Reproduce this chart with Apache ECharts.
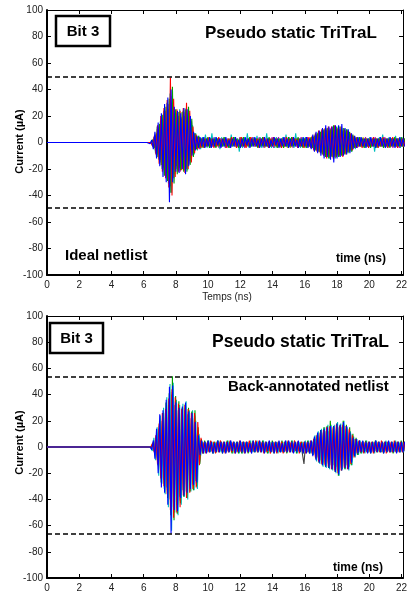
<!DOCTYPE html>
<html><head><meta charset="utf-8">
<script src="https://cdn.jsdelivr.net/npm/echarts@6/dist/echarts.min.js"></script>
<style>html,body{margin:0;padding:0;background:#fff}#c{width:410px;height:593px}</style>
</head><body><div id="c"></div>
<script>
// axis ranges / ticks
const xRange = {min: 0, max: 22.1, interval: 2};
const yRange = {min: -100, max: 100, interval: 20};
// traces are sampled from T0 (+ a small per-trace sampling shift) with step DT; quiet at 0 before T0
const T0 = 6.0, DT = 0.1;
const traceShift = [0.05, 0.02, 0.07, 0.035, 0.085, 0.06, 0.0];
const traceColors = ['#404040', '#bfbf00', '#bf00bf', '#00bfbf', '#00a000', '#ff0000', '#0000ff'];
const idealThresholds = [49.5, -49.5];
const backThresholds = [54, -66];

// ---- Ideal netlist traces (uA), t = 6.0 .. 22.2 ns
const idealGray = [
0,0,0,0,0,1,-2,5,-8,10,
-13,16,-19,20,-23,25,-29,30,-24,19,
-18,17,-19,18,-18,20,-18,19,-14,14,
-8,6,-4,4,-3,3,-3,3,-3,3,
-2,3,-3,2,-3,3,-2,3,-3,2,
-3,2,-3,3,-2,3,-3,2,-3,3,
-2,3,-3,3,-2,3,-3,2,-3,3,
-3,3,-2,3,-3,2,-3,3,-2,3,
-3,2,-3,3,-3,3,-2,3,-3,2,
-3,3,-2,3,-3,3,-3,2,-3,3,
-2,3,-3,3,-3,4,-5,5,-6,7,
-7,8,-8,9,-9,9,-10,9,-10,9,
-9,9,-8,8,-8,7,-7,6,-5,5,
-3,3,-3,3,-3,2,-3,3,-3,3,
-3,2,-3,3,-3,3,-2,3,-3,3,
-2,3,-3,3,-2,3,-3,3,-3,2,
-3,2,-3];
const idealOlive = [
0,0,0,0,0,-1,3,-6,10,-12,
14,-17,20,-22,25,-27,31,-33,26,-21,
19,-18,21,-17,20,-19,23,-18,20,-12,
8,-6,5,-4,3,-4,3,-3,3,-3,
3,-3,4,-3,3,-3,3,-4,3,-3,
3,-3,3,-3,4,-3,3,-3,3,-3,
4,-3,3,-3,3,-3,4,-3,3,-3,
3,-3,3,-3,3,-4,3,-3,3,-3,
3,-3,3,-4,3,-3,3,-3,3,-4,
3,-4,3,-3,3,-3,3,-3,4,-3,
3,-3,3,-3,4,-4,5,-6,6,-7,
8,-8,9,-9,10,-10,9,-10,11,-9,
9,-9,10,-9,8,-8,8,-7,6,-5,
4,-3,3,-3,3,-3,4,-3,3,-3,
3,-3,3,-3,3,-3,3,-3,3,-3,
3,-3,3,-3,3,-3,3,-3,3,-3,
3,-3,3];
const idealMagenta = [
0,0,0,0,0,1,-3,6,-9,12,
-15,18,-21,24,-26,29,-33,35,-27,22,
-20,20,-22,19,-21,23,-20,22,-16,16,
-9,7,-5,4,-5,3,-3,4,-3,3,
-3,3,-3,4,-3,2,-4,3,-3,3,
-4,3,-2,3,-3,4,-3,2,-3,4,
-3,3,-4,3,-3,3,-2,4,-3,3,
-3,4,-3,3,-4,3,-3,3,-3,4,
-4,3,-3,4,-3,3,-3,4,-3,3,
-3,3,-4,3,-3,3,-3,4,-3,3,
-3,4,-3,3,-4,4,-5,6,-7,7,
-8,9,-10,10,-9,11,-10,11,-11,10,
-10,10,-9,9,-8,9,-7,7,-6,5,
-4,3,-4,3,-3,3,-3,4,-3,3,
-3,3,-3,4,-3,3,-3,3,-3,4,
-3,3,-3,3,-4,3,-3,3,-4,3,
-3,3,-3];
const idealCyan = [
0,0,0,0,0,-2,4,-8,12,-13,
16,-20,24,-25,30,-31,37,-38,30,-24,
22,-21,25,-20,24,-21,26,-21,22,-13,
13,-9,7,-6,5,-5,4,-3,6,-4,
3,-4,7,-3,4,-3,3,-5,4,-3,
4,-3,3,-4,6,-3,4,-3,3,-7,
3,-4,4,-3,7,-4,3,-3,4,-3,
5,-3,4,-4,3,-3,7,-4,3,-4,
3,-4,4,-3,3,-4,4,-3,6,-3,
4,-3,3,-4,7,-3,3,-4,3,-3,
4,-4,3,-3,4,-5,6,-6,8,-7,
9,-9,10,-10,11,-12,10,-11,12,-10,
10,-11,9,-10,11,-8,10,-7,6,-7,
4,-5,3,-3,4,-3,3,-4,3,-3,
4,-3,3,-7,3,-3,4,-3,6,-3,
3,-4,4,-3,3,-3,5,-3,3,-4,
4,-3,3];
const idealGreen = [
0,0,0,0,0,2,-4,7,-11,14,
-17,21,-25,27,-29,33,-38,42,-31,25,
-24,23,-21,23,-22,25,-22,27,-17,18,
-11,7,-5,5,-4,3,-4,3,-3,4,
-4,3,-2,3,-4,3,-3,2,-3,4,
-3,2,-4,3,-3,4,-2,3,-4,3,
-3,4,-3,2,-3,4,-3,3,-2,3,
-4,3,-3,4,-3,2,-3,4,-3,3,
-2,3,-4,3,-3,3,-4,2,-3,4,
-3,4,-3,3,-2,4,-3,3,-4,3,
-4,3,-3,4,-4,5,-6,7,-7,8,
-9,10,-11,11,-12,10,-11,13,-12,12,
-11,12,-10,11,-9,10,-8,8,-7,6,
-4,4,-3,4,-3,3,-4,3,-3,3,
-4,3,-3,3,-4,3,-3,3,-4,3,
-3,3,-4,3,-3,4,-3,3,-3,4,
-3,3,-2];
const idealRed = [
0,0,0,1,0,-3,5,-9,13,-16,
20,-22,26,-27,32,-34,49,-40,33,-26,
25,-22,24,-21,26,-23,30,-20,24,-15,
12,-8,6,-5,4,-4,3,-4,3,-3,
4,-3,3,-4,2,-3,4,-3,3,-2,
3,-4,3,-3,4,-2,3,-4,2,-3,
4,-3,2,-4,3,-3,4,-2,3,-3,
3,-4,3,-2,4,-3,3,-4,3,-3,
4,-3,3,-3,2,-4,3,-3,4,-2,
3,-3,4,-2,3,-4,3,-3,2,-4,
3,-3,4,-4,5,-6,7,-7,9,-8,
10,-10,11,-12,12,-11,12,-12,13,-11,
11,-10,12,-11,10,-9,9,-7,7,-6,
5,-4,4,-3,3,-4,3,-3,3,-4,
3,-3,4,-3,3,-4,3,-3,4,-3,
3,-4,3,-3,4,-3,3,-4,3,-3,
3,-3,3];
const idealBlue = [
0,1,0,0,-1,2,-5,8,-12,15,
-18,22,-26,29,-30,34,-45,40,-30,27,
-22,24,-23,22,-20,26,-24,25,-18,20,
-10,8,-6,5,-4,4,-3,4,-4,3,
-3,4,-4,3,-3,4,-2,3,-4,3,
-3,4,-3,2,-4,3,-3,4,-3,2,
-4,3,-3,4,-2,3,-4,3,-3,4,
-3,2,-4,3,-3,4,-3,3,-4,2,
-3,4,-2,3,-4,3,-3,4,-3,3,
-4,3,-3,4,-3,2,-4,3,-3,4,
-3,4,-4,3,-5,6,-7,8,-8,9,
-10,11,-12,13,-11,12,-13,12,-15,13,
-12,13,-11,14,-10,11,-9,10,-8,7,
-5,5,-4,4,-3,4,-3,3,-4,3,
-3,4,-3,3,-4,3,-3,4,-3,3,
-4,3,-3,4,-3,3,-4,3,-3,4,
-3,3,-3];

// ---- Back-annotated netlist traces (uA), t = 6.0 .. 22.2 ns
const backGray = [
0,0,0,0,0,1,-2,6,-10,14,
-19,20,-25,26,-31,32,-40,40,-46,32,
-44,28,-38,26,-33,28,-34,25,-29,22,
-28,22,-26,12,-10,5,-4,3,-4,3,
-3,4,-3,3,-4,3,-3,4,-3,3,
-4,3,-3,4,-3,3,-4,3,-3,4,
-3,3,-4,3,-3,4,-3,3,-4,3,
-3,4,-3,3,-4,3,-3,4,-3,3,
-4,3,-3,4,-3,3,-4,3,-3,4,
-3,3,-4,3,-3,4,-3,3,4,-13,
3,-4,3,-4,4,-5,6,-8,9,-10,
11,-12,12,-13,12,-14,13,-14,14,-15,
15,-17,15,-15,16,-14,13,-15,10,-11,
6,-6,4,-4,3,-4,4,-3,3,-4,
3,-4,3,-3,4,-3,3,-4,3,-3,
4,-3,3,-4,3,-3,4,-3,3,-4,
3,-3,3];
const backOlive = [
0,0,0,0,0,-1,4,-7,11,-15,
20,-24,25,-30,32,-38,42,-50,44,-42,
32,-44,29,-37,30,-34,31,-34,26,-29,
25,-28,18,-25,9,-6,4,-4,3,-4,
4,-3,4,-4,3,-4,4,-3,4,-4,
3,-4,4,-3,4,-4,3,-4,4,-3,
4,-3,4,-4,3,-4,4,-3,4,-4,
3,-4,4,-3,4,-4,3,-4,4,-3,
4,-4,3,-4,4,-3,4,-4,3,-4,
4,-3,4,-4,3,-4,4,-3,4,-4,
3,-4,4,-4,4,-5,7,-8,10,-11,
12,-13,13,-14,14,-15,15,-16,15,-17,
16,-19,16,-16,17,-15,14,-16,11,-12,
7,-6,5,-5,4,-4,4,-4,3,-4,
4,-3,4,-4,3,-4,4,-3,4,-4,
3,-4,4,-3,4,-4,3,-4,4,-3,
4,-3,4];
const backMagenta = [
0,0,0,0,0,1,-3,7,-12,16,
-22,22,-28,28,-33,35,-45,42,-50,35,
-47,31,-41,28,-35,30,-36,27,-31,24,
-30,24,-28,13,-12,5,-4,4,-4,4,
-4,3,-4,4,-3,4,-4,3,-4,4,
-3,4,-4,3,-4,4,-3,4,-4,3,
-4,4,-3,4,-4,3,-4,4,-3,4,
-4,3,-4,4,-3,4,-4,3,-4,4,
-3,4,-4,3,-4,4,-3,4,-4,3,
-4,3,-4,4,-3,4,-4,3,-4,4,
-4,4,-3,4,-5,6,-7,9,-10,11,
-12,12,-13,14,-13,15,-14,14,-16,15,
-18,15,-16,16,-15,14,-15,13,-11,8,
-6,6,-5,4,-4,4,-4,3,-4,4,
-4,3,-4,4,-3,4,-4,3,-4,4,
-3,4,-4,3,-4,4,-3,4,-4,3,
-4,3,-4];
const backCyan = [
0,0,0,0,0,-3,7,-10,15,-22,
24,-28,30,-36,38,-46,48,-64,49,-50,
36,-52,32,-44,33,-38,35,-40,28,-34,
28,-33,20,-32,10,-7,4,-5,4,-4,
5,-4,4,-5,4,-4,5,-4,4,-4,
4,-4,5,-4,4,-5,4,-4,4,-5,
4,-5,4,-4,4,-4,5,-4,4,-4,
5,-4,4,-4,5,-4,4,-5,4,-4,
4,-4,4,-5,4,-4,4,-4,5,-4,
4,-4,5,-4,4,-5,4,-4,4,-4,
5,-4,5,-5,5,-6,9,-11,12,-13,
14,-15,15,-16,17,-17,17,-18,17,-20,
19,-22,18,-17,20,-17,15,-18,12,-14,
8,-8,6,-6,5,-5,4,-5,5,-4,
4,-4,4,-5,5,-4,4,-4,4,-4,
5,-4,4,-4,4,-4,5,-4,4,-4,
4,-4,4];
const backGreen = [
0,0,0,0,0,2,-5,9,-14,20,
-27,26,-32,34,-39,41,-52,54,-56,39,
-51,35,-43,30,-38,33,-39,30,-34,27,
-33,28,-30,15,-13,6,-5,5,-4,5,
-4,4,-5,4,-4,5,-4,4,-5,4,
-4,5,-4,4,-5,4,-4,4,-5,4,
-5,4,-4,4,-5,4,-4,5,-4,4,
-4,4,-4,5,-4,4,-5,4,-4,5,
-5,4,-4,4,-4,5,-4,4,-5,4,
-4,5,-4,4,-5,4,-4,4,-5,4,
-4,5,-5,4,-6,7,-9,10,-12,13,
-14,15,-15,16,-16,20,-17,16,-19,18,
-22,17,-18,20,-17,17,-16,15,-14,10,
-7,7,-6,5,-5,4,-4,5,-4,4,
-5,4,-4,5,-4,4,-4,4,-5,4,
-4,4,-4,4,-5,4,-4,4,-4,5,
-4,4,-4];
const backRed = [
0,0,0,0,0,3,-4,9,-13,18,
-24,26,-30,29,-36,37,-48,44,-54,38,
-50,33,-46,29,-37,32,-39,29,-35,26,
-32,26,-31,19,-14,7,-5,4,-5,4,
-4,5,-4,4,-5,4,-4,5,-3,4,
-5,4,-4,5,-4,4,-5,3,-4,5,
-4,4,-5,4,-4,5,-4,4,-3,5,
-4,5,-4,4,-5,4,-4,4,-5,3,
-4,4,-5,4,-4,4,-5,4,-4,5,
-4,4,-4,5,-3,4,-5,4,-4,4,
-5,4,-4,5,-5,6,-8,9,-11,11,
-13,13,-14,15,-15,16,-17,15,-18,17,
-20,16,-18,17,-16,16,-17,14,-13,9,
-8,6,-5,5,-4,4,-5,4,-4,4,
-4,4,-5,4,-4,4,-4,5,-4,4,
-5,4,-4,4,-4,5,-4,4,-4,4,
-4,4,-4];
const backBlue = [
0,0,0,0,0,-2,5,-9,14,-20,
25,-31,28,-35,36,-44,46,-66,47,-48,
34,-49,30,-39,31,-37,34,-35,27,-32,
26,-29,19,-27,9,-6,5,-5,4,-5,
5,-4,4,-5,3,-4,5,-4,4,-5,
4,-5,4,-4,5,-3,4,-5,4,-4,
5,-4,4,-5,4,-4,3,-5,5,-4,
4,-4,5,-4,4,-5,4,-3,5,-4,
4,-5,4,-4,5,-4,3,-4,5,-4,
5,-4,4,-5,4,-4,5,-4,3,-5,
4,-5,4,-5,5,-7,8,-10,11,-12,
13,-14,14,-15,15,-16,16,-17,16,-19,
18,-21,17,-18,19,-16,16,-17,11,-12,
7,-7,6,-5,5,-4,5,-4,4,-5,
4,-5,4,-4,5,-4,4,-4,4,-5,
4,-4,5,-4,4,-4,4,-5,4,-4,
4,-4,4];

const idealTraces = [idealGray, idealOlive, idealMagenta, idealCyan, idealGreen, idealRed, idealBlue];
const backTraces = [backGray, backOlive, backMagenta, backCyan, backGreen, backRed, backBlue];

const FONT = '"Liberation Sans", Arial, Helvetica, sans-serif';

function traceData(vals, shift) {
  const d = [[xRange.min, 0]];
  vals.forEach((v, i) => d.push([+(T0 + shift + i * DT).toFixed(3), v]));
  return d;
}

function makeAxes(gi) {
  const xs = [
    {type: 'value', gridIndex: gi, position: 'bottom', min: xRange.min, max: xRange.max, interval: xRange.interval,
     axisLine: {onZero: false, lineStyle: {color: '#000', width: 2}}, axisTick: {inside: true, length: 4, lineStyle: {color: '#000', width: 1}},
     axisLabel: {color: '#222', fontSize: 10, fontFamily: FONT, margin: 5, alignMaxLabel: 'center',
       formatter: v => (Math.abs(v - Math.round(v)) < 1e-6 ? String(v) : '')},
     splitLine: {show: false}},
    {type: 'value', gridIndex: gi, position: 'top', min: xRange.min, max: xRange.max, interval: xRange.interval,
     axisLine: {onZero: false, lineStyle: {color: '#000', width: 1}}, axisTick: {inside: true, length: 4, lineStyle: {color: '#000'}},
     axisLabel: {show: false}, splitLine: {show: false}}
  ];
  const ys = [
    {type: 'value', gridIndex: gi, position: 'left', min: yRange.min, max: yRange.max, interval: yRange.interval,
     axisLine: {onZero: false, lineStyle: {color: '#000', width: 2}}, axisTick: {inside: true, length: 4, lineStyle: {color: '#000'}},
     axisLabel: {color: '#222', fontSize: 10, fontFamily: FONT, margin: 4}, splitLine: {show: false}},
    {type: 'value', gridIndex: gi, position: 'right', min: yRange.min, max: yRange.max, interval: yRange.interval,
     axisLine: {onZero: false, lineStyle: {color: '#000', width: 1}}, axisTick: {inside: true, length: 4, lineStyle: {color: '#000'}},
     axisLabel: {show: false}, splitLine: {show: false}}
  ];
  return {xs, ys};
}

const a0 = makeAxes(0), a1 = makeAxes(1);

function makeSeries(traces, gi, thresholds) {
  return traces.map((vals, k) => {
    const s = {
      type: 'line', xAxisIndex: gi * 2, yAxisIndex: gi * 2, data: traceData(vals, traceShift[k]),
      showSymbol: false, symbol: 'none', animation: false, silent: true,
      lineStyle: {color: traceColors[k], width: 1.1}, clip: true
    };
    if (k === traces.length - 1) {
      s.markLine = {
        silent: true, symbol: 'none', animation: false, label: {show: false},
        lineStyle: {color: '#000', type: [5, 3], width: 1.5},
        data: thresholds.map(v => ({yAxis: v}))
      };
    }
    return s;
  });
}

function txt(x, y, text, size, weight, align, extra) {
  return Object.assign({type: 'text', x, y, z: 100,
    style: {text, font: `${weight} ${size}px ${FONT}`, fill: '#000', align, verticalAlign: 'middle'}}, extra || {});
}

const chart = echarts.init(document.getElementById('c'), null, {renderer: 'canvas'});
chart.setOption({
  animation: false,
  backgroundColor: '#fff',
  grid: [
    {left: 47, top: 10, width: 361.8, height: 265},
    {left: 47, top: 316, width: 361.8, height: 267}
  ],
  xAxis: [...a0.xs, ...a1.xs],
  yAxis: [...a0.ys, ...a1.ys],
  series: [...makeSeries(idealTraces, 0, idealThresholds), ...makeSeries(backTraces, 1, backThresholds)],
  graphic: [
    {type: 'rect', z: 100, shape: {x: 56, y: 16, width: 54, height: 30}, style: {fill: '#fff', stroke: '#000', lineWidth: 2.5}},
    txt(83, 31.5, 'Bit 3', 15, 'bold', 'center'),
    {type: 'rect', z: 100, shape: {x: 50, y: 323, width: 53, height: 30}, style: {fill: '#fff', stroke: '#000', lineWidth: 2.5}},
    txt(76.5, 338.5, 'Bit 3', 15, 'bold', 'center'),
    txt(205, 33, 'Pseudo static TriTraL', 17, 'bold', 'left'),
    txt(212, 342, 'Pseudo static TriTraL', 17.5, 'bold', 'left'),
    txt(65, 256, 'Ideal netlist', 15, 'bold', 'left'),
    txt(228, 387, 'Back-annotated netlist', 15, 'bold', 'left'),
    txt(336, 259, 'time (ns)', 12, 'bold', 'left'),
    txt(333, 568, 'time (ns)', 12, 'bold', 'left'),
    {type: 'text', x: 227, y: 297, z: 100, style: {text: 'Temps (ns)', font: `normal 10px ${FONT}`, fill: '#222', align: 'center', verticalAlign: 'middle'}},
    txt(20, 141.5, 'Current (µA)', 11, 'bold', 'center', {rotation: Math.PI / 2}),
    txt(20, 442.5, 'Current (µA)', 11, 'bold', 'center', {rotation: Math.PI / 2})
  ]
});
</script>
</body></html>
